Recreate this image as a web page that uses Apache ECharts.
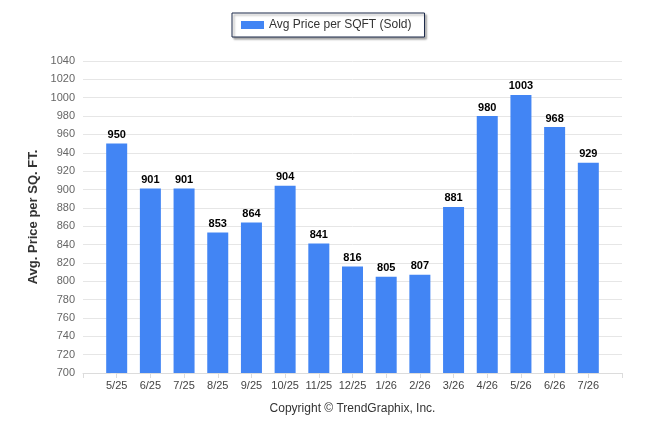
<!DOCTYPE html>
<html>
<head>
<meta charset="utf-8">
<script src="https://cdn.jsdelivr.net/npm/echarts@6/dist/echarts.min.js"></script>
<style>
html, body { margin: 0; padding: 0; background: #fff; }
#chart { width: 646px; height: 434px; }
</style>
</head>
<body>
<div id="chart"></div>
<script>
// data
var months = ['5/25', '6/25', '7/25', '8/25', '9/25', '10/25', '11/25', '12/25', '1/26', '2/26', '3/26', '4/26', '5/26', '6/26', '7/26'];
var avgPrice = [950, 901, 901, 853, 864, 904, 841, 816, 805, 807, 881, 980, 1003, 968, 929];
var yTicks = { min: 700, max: 1040, step: 20 };

var myChart = echarts.init(document.getElementById('chart'));

var font = 'Arial, "Liberation Sans", sans-serif';
var gridColor = '#e6e6e6';

var option = {
	animation: false,
	textStyle: { fontFamily: font },
	legend: {
		data: ['Avg Price per SQFT (Sold)'],
		left: 232,
		top: 13,
		icon: 'rect',
		itemWidth: 23,
		itemHeight: 8,
		itemGap: 5,
		padding: [6, 13, 6, 9],
		backgroundColor: '#fff',
		borderColor: '#1c2a4a',
		borderWidth: 1,
		shadowColor: 'rgba(0,0,0,0.35)',
		shadowBlur: 2,
		shadowOffsetX: 2,
		shadowOffsetY: 2,
		textStyle: { fontSize: 12, color: '#333', fontFamily: font }
	},
	grid: { left: 83, right: 24, top: 61, bottom: 61 },
	xAxis: {
		type: 'value',
		min: -1,
		max: months.length,
		interval: 1,
		name: 'Copyright \u00a9 TrendGraphix, Inc.',
		nameLocation: 'middle',
		nameGap: 30,
		nameTextStyle: { fontSize: 12, color: '#333' },
		axisLine: { show: true, lineStyle: { color: '#dcdcdc' } },
		axisTick: { show: true, length: 5, lineStyle: { color: '#dcdcdc' } },
		splitLine: { show: false },
		axisLabel: {
			fontSize: 11,
			color: '#444',
			margin: 7,
			showMinLabel: true,
			showMaxLabel: true,
			formatter: function (v) { return months[v] || ''; }
		}
	},
	yAxis: {
		type: 'value',
		min: yTicks.min,
		max: yTicks.max,
		interval: yTicks.step,
		name: 'Avg. Price per SQ. FT.',
		nameLocation: 'middle',
		nameGap: 36,
		nameTextStyle: { fontSize: 13, fontWeight: 'bold', color: '#333' },
		axisLine: { show: false },
		axisTick: { show: true, length: 6, lineStyle: { color: gridColor } },
		splitLine: { lineStyle: { color: gridColor } },
		axisLabel: {
			fontSize: 11,
			color: '#666',
			margin: 8,
			formatter: function (v) { return String(v); }
		}
	},
	series: [{
		name: 'Avg Price per SQFT (Sold)',
		type: 'bar',
		barWidth: 21,
		itemStyle: { color: '#4285f4' },
		label: {
			show: true,
			position: 'top',
			distance: 3,
			fontSize: 11,
			fontWeight: 'bold',
			color: '#000'
		},
		data: avgPrice.map(function (v, i) { return [i, v]; })
	}]
};

myChart.setOption(option);
</script>
</body>
</html>
